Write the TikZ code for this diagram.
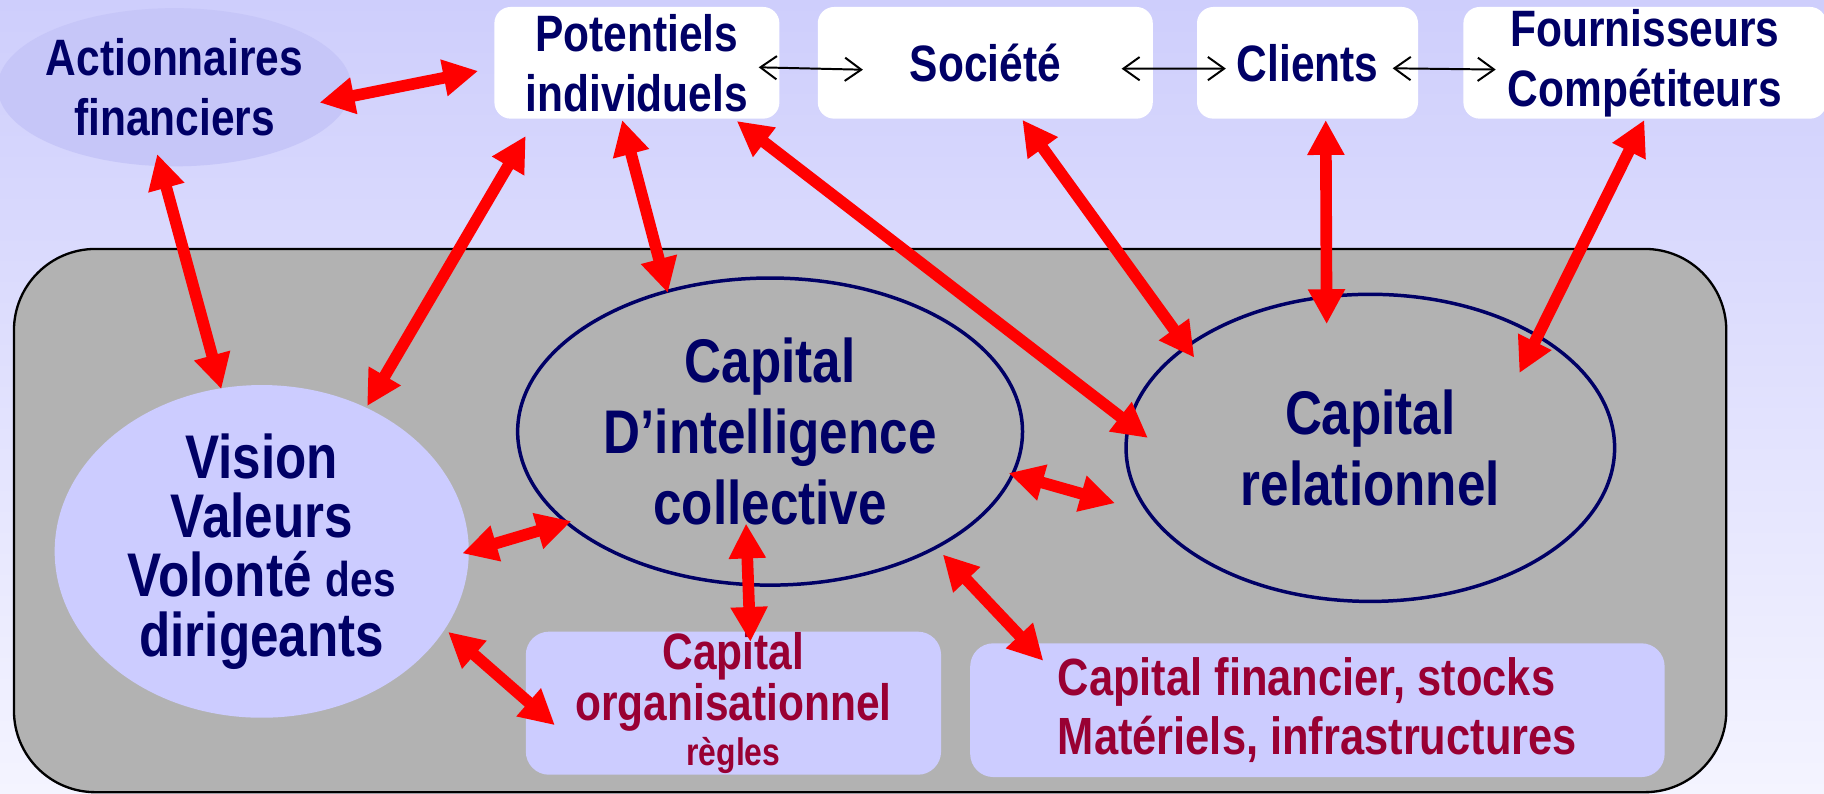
\documentclass[tikz,border=0pt]{standalone}
\usepackage{fontspec}
\setmainfont[FakeStretch=0.83]{Liberation Sans}
\usetikzlibrary{arrows.meta,shapes.geometric}
\definecolor{navy}{RGB}{0,0,102}
\definecolor{wine}{RGB}{153,0,51}
\definecolor{lilac}{RGB}{204,204,255}
\definecolor{haze}{RGB}{198,198,248}
\definecolor{firmgray}{RGB}{178,178,178}
\definecolor{skytop}{RGB}{206,206,252}
\definecolor{skybot}{RGB}{244,244,255}
\tikzstyle{outside}=[rectangle,rounded corners=14pt,fill=white,text=navy,align=center,inner sep=0pt,minimum height=96pt,font=\bfseries\fontsize{44}{51.5}\selectfont]
\tikzstyle{holder}=[ellipse,fill=haze,text=navy,align=center,inner sep=-20pt,font=\bfseries\fontsize{44}{51.5}\selectfont]
\tikzstyle{capital}=[ellipse,inner sep=-20pt,text=navy,align=center,font=\bfseries\fontsize{53}{61}\selectfont]
\tikzstyle{asset}=[rectangle,rounded corners=20pt,fill=lilac,text=wine,align=center,inner sep=0pt,font=\bfseries\fontsize{44}{43}\selectfont]
\tikzstyle{link}=[draw=red,line width=10pt,arrows={Triangle[length=30pt,width=30pt]-Triangle[length=30pt,width=30pt]}]
\tikzstyle{peer}=[draw=black,line width=1.7pt,arrows={Straight Barb[length=14pt,width=20pt]-Straight Barb[length=14pt,width=20pt]}]

\begin{document}
\begin{tikzpicture}[x=1pt,y=-1pt]
	\useasboundingbox (0,0) rectangle (1568,682);
	\shade[top color=skytop,bottom color=skybot] (0,0) rectangle (1568,682);

	% the firm and its capitals
	\node[draw=black,fill=firmgray,line width=2pt,rounded corners=70pt,minimum width=1472pt,minimum height=467pt,inner sep=0pt] (firm) at (748,447.5) {};
	\node[capital,fill=lilac,minimum width=356pt,minimum height=286pt,font=\bfseries\fontsize{53}{51}\selectfont] (vis) at (225,474)
		{Vision\\Valeurs\\Volonté {\fontsize{42}{51}\selectfont des}\\dirigeants};
	\node[capital,draw=navy,line width=3pt,minimum width=434pt,minimum height=264pt] (int) at (662,371) {Capital\\D’intelligence\\collective};
	\node[capital,draw=navy,line width=3pt,minimum width=420pt,minimum height=264pt] (rel) at (1178,385) {Capital\\relationnel};
	\node[asset,minimum width=357pt,minimum height=123pt] (org) at (630.5,604.5)
		{Capital\\organisationnel\\[-4pt]{\fontsize{33}{37}\selectfont règles}};
	\node[asset,align=left,minimum width=597pt,minimum height=115pt,font=\bfseries\fontsize{45}{51}\selectfont] (fin) at (1132.5,610.5)
		{Capital financier, stocks\\Matériels, infrastructures};

	% the outside world
	\node[holder,minimum width=304pt,minimum height=136pt] (act) at (150,75) {Actionnaires\\financiers};
	\foreach \pos/\name/\boxw/\txt in {{(547.5,54)/pot/245/Potentiels\\individuels}, {(847,54)/soc/288/Société},
									{(1124,54)/cli/190/Clients}, {(1414,54)/fou/312/Fournisseurs\\Compétiteurs}}
	\node[outside,minimum width=\boxw pt] (\name) at \pos {\txt};

	% links between the outside partners
	\foreach \source/\dest/\sa/\sb in {pot.-2/soc.182/-18/-39, soc.-2/cli.183/-27/-25, cli.-3/fou.182/-22/-28}
	\path[peer,shorten <=\sa pt,shorten >=\sb pt] (\source) -- (\dest);

	% exchanges with the capitals
	\foreach \source/\dest/\sa/\sb in {act.-3/pot.182/-27/14, act.-100/vis.104/-11/-1, pot.-151/vis.54/17/1.5,
									pot.-105/int.126/1/-3, pot.-30/rel.174/3/-22, soc.-57/rel.151/1/-13,
									cli.-72/rel.106/1/-25, fou.south/rel.34/1/-37, int.-10/rel.196/-5/28,
									vis.0/int.-156/-6/-6, int.-98/org.77/-54/-9, vis.-23/org.179/3.5/-33.5,
									int.-35/fin.167/7/-21}
	\path[link,shorten <=\sa pt,shorten >=\sb pt] (\source) -- (\dest);
\end{tikzpicture}
\end{document}
